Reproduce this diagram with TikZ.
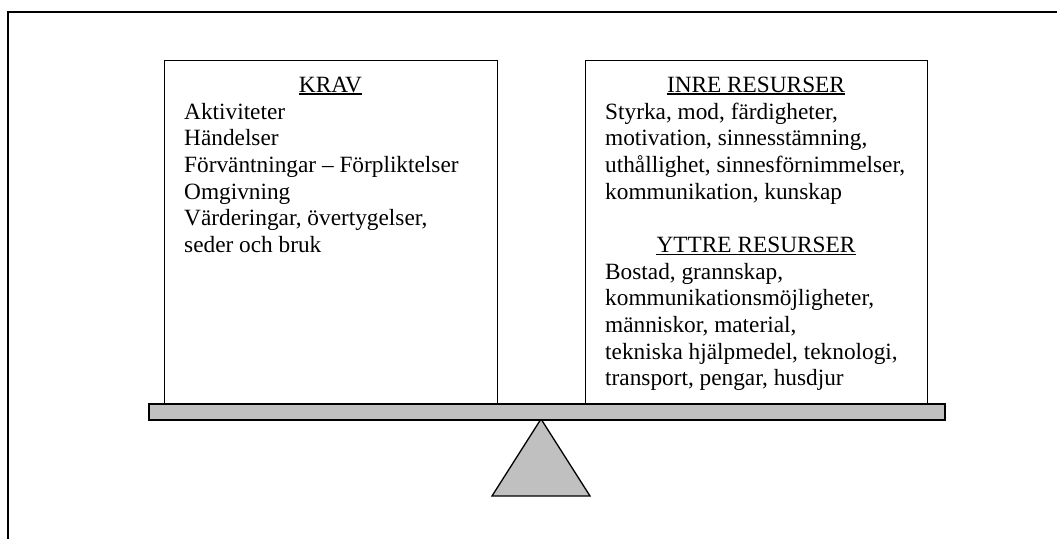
\documentclass[tikz,border=0pt]{standalone}
\usepackage{fontspec}
\setmainfont{Liberation Serif}
\usetikzlibrary{positioning}
\definecolor{beamgray}{RGB}{192,192,192}

\begin{document}
\begin{tikzpicture}[x=1pt,y=-1pt,
  every node/.style={font=\fontsize{23.3}{26.7}\selectfont},
  panel/.style={draw,line width=1.3pt,inner sep=0pt,anchor=north west},
  heading/.style={inner sep=0pt,anchor=base},
  itemtext/.style={inner sep=0pt,anchor=base west},
  headline/.style={line width=1.4pt}]
  \useasboundingbox (0,0) rectangle (1057,538);
  \clip (0,0) rectangle (1057,538);
  % outer frame, cut at the right and bottom
  \draw[line width=2pt] (1070,12) -- (8,12) -- (8,550);

  % the two pans
  \node[panel,minimum width=333pt,minimum height=343pt] (krav) at (164,60) {};
  \node[panel,minimum width=342pt,minimum height=343pt] (resurser) at (585,60) {};

  % demands
  \node[heading] (kravrubrik) at (330.5,92) {KRAV};
  \draw[headline] ([yshift=-2pt]kravrubrik.base west) -- ([yshift=-2pt]kravrubrik.base east);
  \node[itemtext] (kravlista) at (184,119) {\begin{tabular}[t]{@{}l@{}}
    Aktiviteter\\
    Händelser\\
    Förväntningar – Förpliktelser\\
    Omgivning\\
    Värderingar, övertygelser,\\
    seder och bruk
  \end{tabular}};

  % inner resources
  \node[heading] (inrerubrik) at (756,92) {INRE RESURSER};
  \draw[headline] ([yshift=-2pt]inrerubrik.base west) -- ([yshift=-2pt]inrerubrik.base east);
  \node[itemtext] (inrelista) at (605,119) {\begin{tabular}[t]{@{}l@{}}
    Styrka, mod, färdigheter,\\
    motivation, sinnesstämning,\\
    uthållighet, sinnesförnimmelser,\\
    kommunikation, kunskap
  \end{tabular}};

  % outer resources
  \node[heading] (yttrerubrik) at (756,252.5) {YTTRE RESURSER};
  \draw[headline] ([yshift=-2pt]yttrerubrik.base west) -- ([yshift=-2pt]yttrerubrik.base east);
  \node[itemtext] (yttrelista) at (605,279) {\begin{tabular}[t]{@{}l@{}}
    Bostad, grannskap,\\
    kommunikationsmöjligheter,\\
    människor, material,\\
    tekniska hjälpmedel, teknologi,\\
    transport, pengar, husdjur
  \end{tabular}};

  % fulcrum and beam
  \coordinate (spets) at (541,419);
  \draw[fill=beamgray,line width=1.3pt,line join=miter] (spets) -- (492,496) -- (590,496) -- cycle;
  \node[draw,fill=beamgray,line width=1.5pt,inner sep=0pt,anchor=north west,
    minimum width=796pt,minimum height=16pt] (balk) at (148,403) {};
\end{tikzpicture}
\end{document}
